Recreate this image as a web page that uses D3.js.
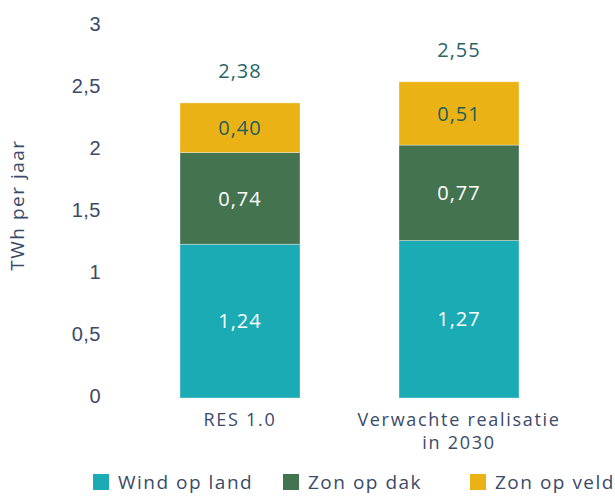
<!DOCTYPE html>
<html lang="nl">
<head>
<meta charset="utf-8" />
<title>RES 1.0</title>
<style>
  * { margin: 0; padding: 0; }
  body { background: #fff; font-family: "Open Sans", sans-serif; }
  svg { display: block; }
  .tick text { fill: #3b4a68; font-size: 20px; letter-spacing: 0.5px; }
  .cat { fill: #3b4a68; font-size: 18px; letter-spacing: 1.7px; }
  .legend text { fill: #3b4a68; font-size: 19px; letter-spacing: 1.5px; }
  .ytitle { fill: #3b4a68; font-size: 19px; letter-spacing: 1.5px; }
  .total { fill: #276566; font-size: 20px; letter-spacing: 1px; }
  .seg { font-size: 20px; letter-spacing: 1px; }
</style>
</head>
<body>
<script src="https://d3js.org/d3.v7.min.js"></script>
<div id="chart"></div>
<script>

  var categories = ["RES 1.0", "Verwachte realisatie in 2030"];
  var catLines = [["RES 1.0"], ["Verwachte realisatie", "in 2030"]];
  var series = ["Wind op land", "Zon op dak", "Zon op veld"];
  var windLand = [1.24, 1.27];
  var zonDak = [0.74, 0.77];
  var zonVeld = [0.40, 0.51];
  var totals = [2.38, 2.55];
  var yTicks = [0, 0.5, 1, 1.5, 2, 2.5, 3];
  var colors = ["#1aabb4", "#43734f", "#ebb216"];
  var labelColors = ["#ffffff", "#ffffff", "#215f5e"];

  var width = 615, height = 497;
  var fmt = function(v, d) { return v.toFixed(d).replace(".", ","); };

  var svg = d3.select("#chart").append("svg")
      .attr("width", width)
      .attr("height", height);

  var x = d3.scaleBand()
      .domain(categories)
      .range([70.5, 628.5])
      .paddingInner(0.452)
      .paddingOuter(0.5);

  var y = d3.scaleLinear()
      .domain([0, 3])
      .range([398, 26]);

  // y axis, no line, no tick marks
  var yAxis = svg.append("g")
      .attr("transform", "translate(101,0)")
      .call(d3.axisLeft(y)
        .tickValues(yTicks)
        .tickSize(0)
        .tickPadding(0)
        .tickFormat(function(d) { return String(d).replace(".", ","); }));
  yAxis.select(".domain").remove();
  yAxis.selectAll("text").attr("dy", "0.2em");

  svg.append("text")
      .attr("class", "ytitle")
      .attr("transform", "translate(24," + 205 + ") rotate(-90)")
      .attr("text-anchor", "middle")
      .text("TWh per jaar");

  var rows = categories.map(function(c, i) {
    return { cat: c, "Wind op land": windLand[i], "Zon op dak": zonDak[i], "Zon op veld": zonVeld[i] };
  });
  var stacked = d3.stack().keys(series)(rows);

  var layers = svg.selectAll(".layer")
      .data(stacked)
    .enter().append("g")
      .attr("class", "layer");

  layers.each(function(layer, li) {
    var g = d3.select(this);
    g.selectAll("rect")
        .data(layer)
      .enter().append("rect")
        .attr("x", function(d) { return x(d.data.cat); })
        .attr("y", function(d) { return y(d[1]); })
        .attr("width", x.bandwidth())
        .attr("height", function(d) { return y(d[0]) - y(d[1]); })
        .attr("fill", colors[li])
        .attr("stroke", "#ffffff")
        .attr("stroke-opacity", 0.35)
        .attr("stroke-width", 1);
    g.selectAll("text")
        .data(layer)
      .enter().append("text")
        .attr("class", "seg")
        .attr("x", function(d) { return x(d.data.cat) + x.bandwidth() / 2; })
        .attr("y", function(d) { return (y(d[0]) + y(d[1])) / 2; })
        .attr("dy", "0.36em")
        .attr("text-anchor", "middle")
        .attr("fill", labelColors[li])
        .text(function(d) { return fmt(d[1] - d[0], 2); });
  });

  svg.selectAll(".total")
      .data(totals)
    .enter().append("text")
      .attr("class", "total")
      .attr("x", function(d, i) { return x(categories[i]) + x.bandwidth() / 2; })
      .attr("y", function(d) { return y(d) - 32; })
      .attr("dy", "0.36em")
      .attr("text-anchor", "middle")
      .text(function(d) { return fmt(d, 2); });

  // category labels
  var cats = svg.selectAll(".cat")
      .data(categories)
    .enter().append("text")
      .attr("class", "cat")
      .attr("text-anchor", "middle")
      .attr("x", function(d) { return x(d) + x.bandwidth() / 2; })
      .attr("y", 426);
  cats.selectAll("tspan")
      .data(function(d, i) { return catLines[i]; })
    .enter().append("tspan")
      .attr("x", function() { return d3.select(this.parentNode).attr("x"); })
      .attr("dy", function(d, i) { return i === 0 ? 0 : 23; })
      .text(function(d) { return d; });

  // legend
  var legendX = [93, 283, 470];
  var legend = svg.selectAll(".legend")
      .data(series)
    .enter().append("g")
      .attr("class", "legend")
      .attr("transform", function(d, i) { return "translate(" + legendX[i] + ",474)"; });
  legend.append("rect")
      .attr("width", 16)
      .attr("height", 16)
      .attr("fill", function(d, i) { return colors[i]; });
  legend.append("text")
      .attr("x", 25)
      .attr("y", 15)
      .text(function(d) { return d; });

</script>
</body>
</html>
